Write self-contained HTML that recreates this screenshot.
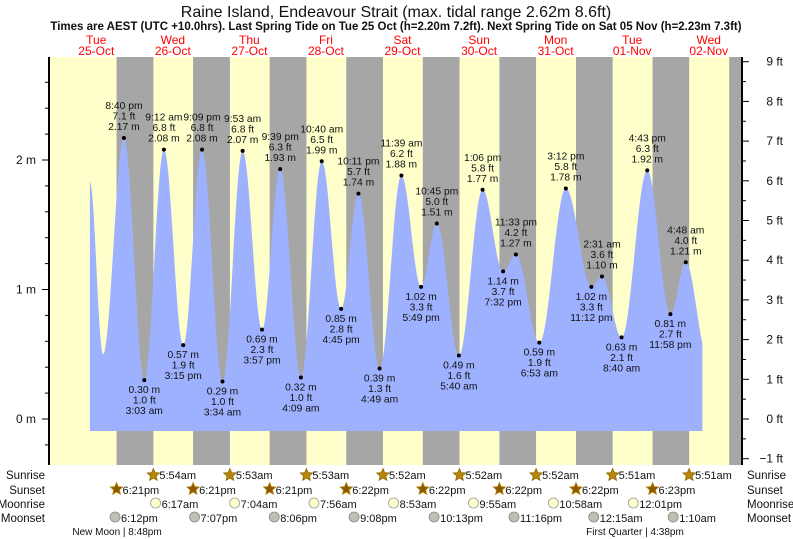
<!DOCTYPE html>
<html><head><meta charset="utf-8"><style>
body{margin:0;background:#fff;}
svg{display:block;font-family:"Liberation Sans",sans-serif;}
</style></head><body>
<svg id="chart" width="793" height="539" viewBox="0 0 793 539" xmlns="http://www.w3.org/2000/svg">
<text x="396" y="17" text-anchor="middle" font-size="16" fill="#111">Raine Island, Endeavour Strait (max. tidal range 2.62m 8.6ft)</text>
<text x="396" y="30" text-anchor="middle" font-size="11.5" font-weight="bold" fill="#111">Times are AEST (UTC +10.0hrs). Last Spring Tide on Tue 25 Oct (h=2.20m 7.2ft). Next Spring Tide on Sat 05 Nov (h=2.23m 7.3ft)</text>
<g id="bg"></g><g id="fill"></g><g id="axes"></g><g id="labels"></g><g id="sun"></g>
</svg>
<script>
// ---- data ----
const dayNames=["Tue","Wed","Thu","Fri","Sat","Sun","Mon","Tue","Wed"];
const dayDates=["25-Oct","26-Oct","27-Oct","28-Oct","29-Oct","30-Oct","31-Oct","01-Nov","02-Nov"];
// tide extremes: hours since 25-Oct 00:00, height m
const tideHours=[10,14.1,20.67,27.05,33.2,39.25,45.15,51.57,57.88,63.95,69.65,76.15,82.67,88.75,94.18,100.82,107.65,113.82,118.75,125.67,133.1,139.53,143.55,150.88,159.2,167.2,170.52,176.67,184.72,191.97,196.8,203.5];
const tideHeights=[1.83,0.5,2.17,0.30,2.08,0.57,2.08,0.29,2.07,0.69,1.93,0.32,1.99,0.85,1.74,0.39,1.88,1.02,1.51,0.49,1.77,1.14,1.27,0.59,1.78,1.02,1.10,0.63,1.92,0.81,1.21,0.5];
const tideTimeLabels=["","","8:40 pm","3:03 am","9:12 am","3:15 pm","9:09 pm","3:34 am","9:53 am","3:57 pm","9:39 pm","4:09 am","10:40 am","4:45 pm","10:11 pm","4:49 am","11:39 am","5:49 pm","10:45 pm","5:40 am","1:06 pm","7:32 pm","11:33 pm","6:53 am","3:12 pm","11:12 pm","2:31 am","8:40 am","4:43 pm","11:58 pm","4:48 am",""];
const tideFtLabels=["","","7.1","1.0","6.8","1.9","6.8","1.0","6.8","2.3","6.3","1.0","6.5","2.8","5.7","1.3","6.2","3.3","5.0","1.6","5.8","3.7","4.2","1.9","5.8","3.3","3.6","2.1","6.3","2.7","4.0",""];
const startHour=10, endHour=202;
const sunsetHours=[18.35,42.35,66.35,90.37,114.37,138.37,162.37,186.38,210.4];
const sunriseHours=[29.9,53.88,77.88,101.87,125.87,149.87,173.87,197.85];
const sunriseLabels=["5:54am","5:53am","5:53am","5:52am","5:52am","5:52am","5:51am","5:51am"];
const sunsetLabels=["6:21pm","6:21pm","6:21pm","6:22pm","6:22pm","6:22pm","6:22pm","6:23pm"];
const moonriseHours=[30.28,55.07,79.93,104.88,129.92,154.97,180.02];
const moonriseLabels=["6:17am","7:04am","7:56am","8:53am","9:55am","10:58am","12:01pm"];
const moonsetHours=[18.2,43.12,68.1,93.13,118.22,143.27,168.25,193.17];
const moonsetLabels=["6:12pm","7:07pm","8:06pm","9:08pm","10:13pm","11:16pm","12:15am","1:10am"];
const meterTicks=[0,1,2];
const feetTicks=[-1,0,1,2,3,4,5,6,7,8,9];
// ---- scales ----
const X0=58, PXH=3.19, PL=49, PR=742, PT=57, PB=465;
const x=h=>X0+h*PXH;
const y=m=>419-m*129.5;
const yft=f=>419-f*39.7;
const NS="http://www.w3.org/2000/svg";
function mk(tag,attrs,parent,text){const e=document.createElementNS(NS,tag);for(const k in attrs)e.setAttribute(k,attrs[k]);if(text!==undefined)e.textContent=text;parent.appendChild(e);return e;}
const bg=document.getElementById('bg'),fillG=document.getElementById('fill'),ax=document.getElementById('axes'),lb=document.getElementById('labels'),sun=document.getElementById('sun');
// background
let r=mk('rect',{x:PL,y:PT,width:PR-PL,height:PB-PT,fill:'#ffffcc'},bg);


for(let i=0;i<sunsetHours.length;i++){
  const x1=x(sunsetHours[i]);const x2=Math.min(PR,i<sunriseHours.length?x(sunriseHours[i]):PR);
  if(x1>=PR)continue;
  const n=mk('rect',{x:x1,y:PT,width:x2-x1,height:PB-PT,fill:'#a6a6a6'},bg);
  
  
}
// day labels
for(let i=0;i<dayNames.length;i++){
  const cx=x(i*24+12);
  const t1=mk('text',{x:cx,y:44,'text-anchor':'middle','font-size':12,fill:'#ff0000'},bg,dayNames[i]);
  
  
  const t2=mk('text',{x:cx,y:55,'text-anchor':'middle','font-size':12,fill:'#ff0000'},bg,dayDates[i]);
  
  
}
// tide curve
function hAt(h){
  for(let i=0;i<tideHours.length-1;i++){
    if(h>=tideHours[i]&&h<=tideHours[i+1]){
      const f=(h-tideHours[i])/(tideHours[i+1]-tideHours[i]);
      const a=tideHeights[i],b=tideHeights[i+1];
      return a+(b-a)*(1-Math.cos(Math.PI*f))/2;
    }
  }
  return tideHeights[tideHeights.length-1];
}
let d=`M${x(startHour)},431`;
for(let h=startHour;h<=endHour;h+=0.25)d+=` L${x(h).toFixed(1)},${y(hAt(h)).toFixed(1)}`;
d+=` L${x(endHour)},${y(hAt(endHour)).toFixed(1)} L${x(endHour)},431 Z`;
const p=mk('path',{d:d,fill:'#9eb1ff'},fillG);


// axes
const la=mk('line',{x1:PL,y1:PT,x2:PL,y2:PB,stroke:'#000','stroke-width':2},ax);


const ra=mk('line',{x1:PR,y1:PT,x2:PR,y2:PB,stroke:'#000','stroke-width':2},ax);


for(let v=-0.2;v<=2.8;v+=0.2){const yy=y(v);if(yy<PT||yy>PB)continue;const maj=Math.abs(v-Math.round(v))<0.01;
  const t=mk('line',{x1:PL-(maj?7:4),y1:yy,x2:PL,y2:yy,stroke:'#000'},ax);
  
  }
meterTicks.forEach(m=>{const t=mk('text',{x:36,y:y(m)+4,'text-anchor':'end','font-size':12,fill:'#111'},ax,m+' m');
  
  });
for(let f=-1;f<=9;f+=0.5){const yy=yft(f);const maj=Number.isInteger(f);
  const t=mk('line',{x1:PR,y1:yy,x2:PR+(maj?7:4),y2:yy,stroke:'#000'},ax);
  
  }
feetTicks.forEach(f=>{const t=mk('text',{x:783,y:yft(f)+4,'text-anchor':'end','font-size':12,fill:'#111'},ax,(f<0?'\u22121':f)+' ft');
  
  });
// extreme labels
for(let i=0;i<tideHours.length;i++){
  if(!tideTimeLabels[i])continue;
  const px=x(tideHours[i]),py=y(tideHeights[i]);
  const high=tideHeights[i]>(tideHeights[i-1]||0);
  const dot=mk('circle',{cx:px,cy:py,r:2,fill:'#000'},lb);
  
  
  const lines=high?[tideTimeLabels[i],tideFtLabels[i]+' ft',tideHeights[i].toFixed(2)+' m']:[tideHeights[i].toFixed(2)+' m',tideFtLabels[i]+' ft',tideTimeLabels[i]];
  const base=high?py-29:py+13;
  lines.forEach((s,k)=>{const t=mk('text',{x:px,y:base+k*10.5,'text-anchor':'middle','font-size':10.3,fill:'#111'},lb,s);
    
    });
}
// sun & moon rows
[['Sunrise',479],['Sunset',494],['Moonrise',508],['Moonset',522]].forEach(([s,yy])=>{
  const a=mk('text',{x:45,y:yy,'text-anchor':'end','font-size':11.5,fill:'#111'},sun,s);
  
  
  const b=mk('text',{x:747,y:yy,'font-size':11.5,fill:'#111'},sun,s);
  
  
});
function star(cx,cy,fill,stroke){let pts=[];for(let k=0;k<10;k++){const rr=k%2?3:6.5;const a=-Math.PI/2+k*Math.PI/5;pts.push((cx+rr*Math.cos(a)).toFixed(1)+','+(cy+rr*Math.sin(a)).toFixed(1));}
  return mk('polygon',{points:pts.join(' '),fill:fill,stroke:stroke,'stroke-width':0.8},sun);}
sunriseHours.forEach((h,i)=>{const s=star(x(h),475,'#b8860b','#8a6a00');
  
  
  const t=mk('text',{x:x(h)+6,y:479,'font-size':11,fill:'#111'},sun,sunriseLabels[i]);
  
  });
sunsetHours.slice(0,sunsetLabels.length).forEach((h,i)=>{const s=star(x(h),489,'#8b5a00','#b8860b');
  
  
  const t=mk('text',{x:x(h)+6,y:494,'font-size':11,fill:'#111'},sun,sunsetLabels[i]);
  
  });
moonriseHours.forEach((h,i)=>{const c=mk('circle',{cx:x(h)+1,cy:503,r:5,fill:'#ffffcc',stroke:'#999','stroke-width':0.8},sun);
  
  
  const t=mk('text',{x:x(h)+7,y:508,'font-size':11,fill:'#111'},sun,moonriseLabels[i]);
  
  });
moonsetHours.forEach((h,i)=>{const c=mk('circle',{cx:x(h)-1,cy:517,r:5,fill:'#c0c0b0',stroke:'#888','stroke-width':0.8},sun);
  
  
  const t=mk('text',{x:x(h)+5,y:522,'font-size':11,fill:'#111'},sun,moonsetLabels[i]);
  
  });
const nm=mk('text',{x:117,y:535,'text-anchor':'middle','font-size':10,fill:'#111'},sun,'New Moon | 8:48pm');


const fq=mk('text',{x:635,y:535,'text-anchor':'middle','font-size':10,fill:'#111'},sun,'First Quarter | 4:38pm');


</script>
</body></html>
